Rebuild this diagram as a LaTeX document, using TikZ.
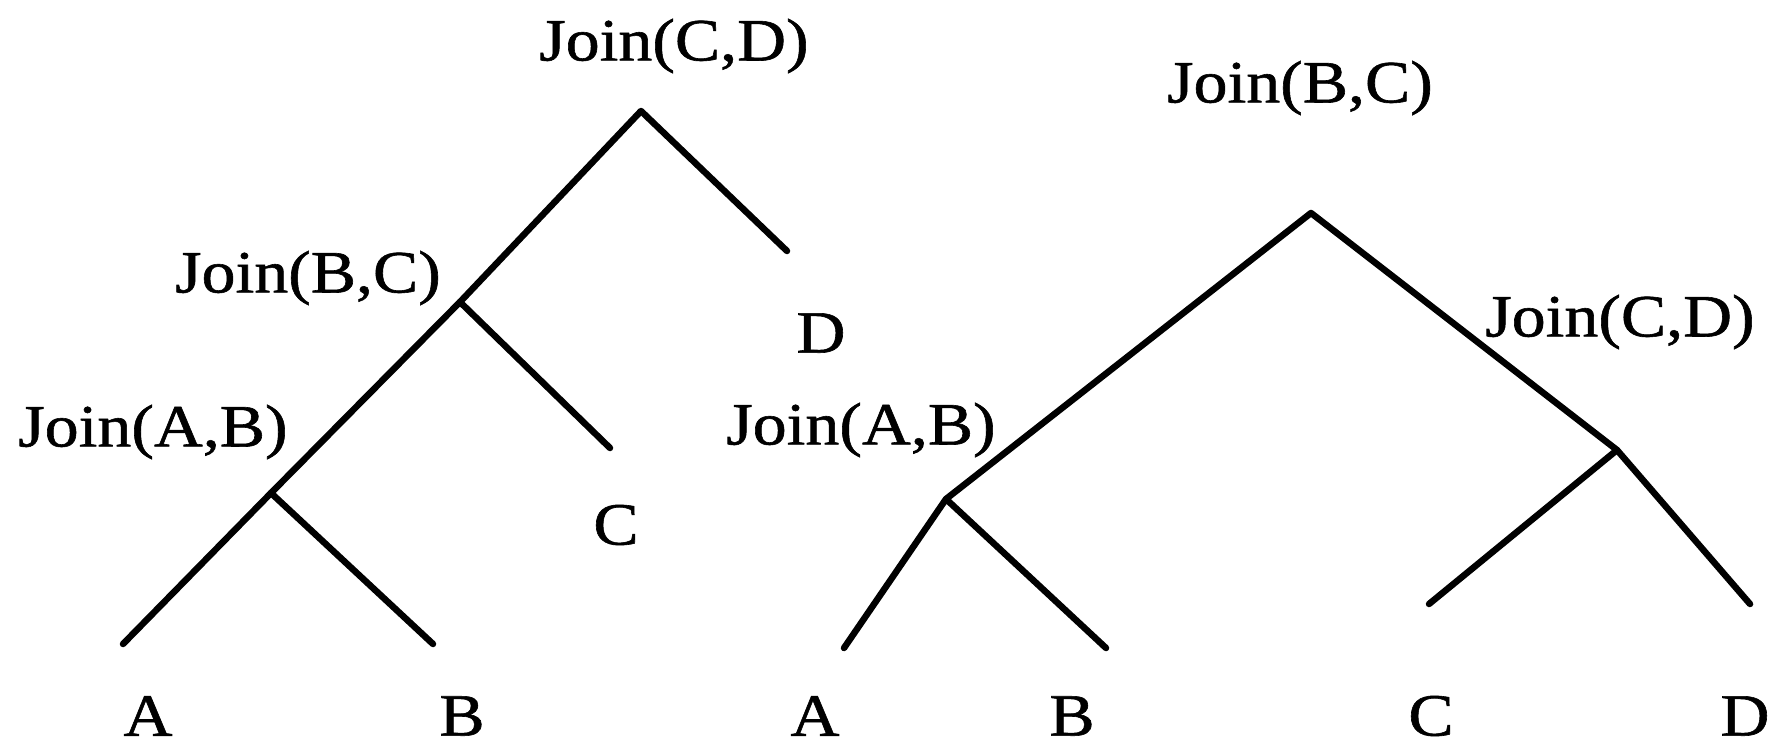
\documentclass[tikz,border=0pt]{standalone}
\usepackage{fontspec}
\setmainfont[FakeStretch=1.13,FakeBold=1]{Liberation Serif}
\begin{document}
\begin{tikzpicture}[x=1pt,y=-1pt,
  edge/.style={line width=6.5pt,line cap=round,line join=round},
  lbl/.style={inner sep=0pt,font=\fontsize{60}{66}\selectfont}]
\useasboundingbox (0,0) rectangle (1788,748);
% left tree
\coordinate (r1) at (641,111);
\coordinate (bc1) at (460,302);
\coordinate (ab1) at (271,493);
\coordinate (a1e) at (123,644);
\coordinate (b1e) at (433,644);
\coordinate (c1e) at (610,448);
\coordinate (d1e) at (787,251);
\draw[edge] (d1e) -- (r1) -- (bc1) -- (ab1) -- (a1e);
\draw[edge] (bc1) -- (c1e);
\draw[edge] (ab1) -- (b1e);
\node[lbl] (lcd) at (674,46) {Join(C,D)};
\node[lbl] (lbc) at (308,278) {Join(B,C)};
\node[lbl] (lab) at (153,432) {Join(A,B)};
\node[lbl] (ld) at (821,333) {D};
\node[lbl] (lc) at (616,525) {C};
\node[lbl] (la) at (148,716) {A};
\node[lbl] (lb) at (462,716) {B};
% right tree
\coordinate (r2) at (1311,213);
\coordinate (ab2) at (946,499);
\coordinate (cd2) at (1617,450);
\coordinate (a2e) at (844,648);
\coordinate (b2e) at (1106,648);
\coordinate (c2e) at (1429,604);
\coordinate (d2e) at (1750,604);
\draw[edge] (ab2) -- (r2) -- (cd2);
\draw[edge] (a2e) -- (ab2) -- (b2e);
\draw[edge] (c2e) -- (cd2) -- (d2e);
\node[lbl] (rbc) at (1300,88) {Join(B,C)};
\node[lbl] (rcd) at (1620,322) {Join(C,D)};
\node[lbl] (rab) at (861,430) {Join(A,B)};
\node[lbl] (ra) at (815,716) {A};
\node[lbl] (rb) at (1072,716) {B};
\node[lbl] (rc) at (1431,716) {C};
\node[lbl] (rd) at (1745,716) {D};
\end{tikzpicture}
\end{document}
